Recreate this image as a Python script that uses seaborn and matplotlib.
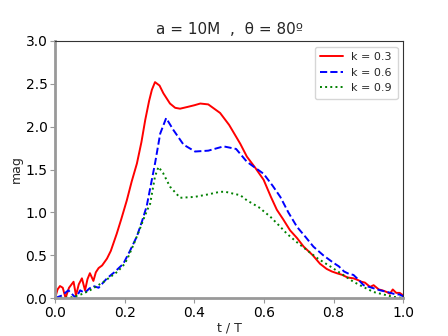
import matplotlib
matplotlib.use("Agg")
import matplotlib.pyplot as plt
import seaborn as sns
import pandas as pd

# k = 0.3 (red, solid)
x_k03 = [0.0, 0.007, 0.014, 0.022, 0.03, 0.04, 0.053, 0.06, 0.068, 0.077, 0.086, 0.093,
         0.10, 0.11, 0.117, 0.125, 0.135, 0.149, 0.16, 0.177, 0.19, 0.206, 0.22, 0.235,
         0.248, 0.259, 0.27, 0.278, 0.287, 0.30, 0.311, 0.33, 0.345, 0.359, 0.38, 0.40,
         0.417, 0.44, 0.474, 0.50, 0.532, 0.551, 0.575, 0.599, 0.62, 0.637, 0.655, 0.675,
         0.695, 0.714, 0.74, 0.761, 0.78, 0.795, 0.809, 0.825, 0.84, 0.857, 0.87, 0.88,
         0.89, 0.905, 0.915, 0.93, 0.94, 0.953, 0.962, 0.97, 0.98, 0.99, 1.0]
y_k03 = [0.0, 0.10, 0.14, 0.12, 0.0, 0.12, 0.19, 0.03, 0.16, 0.23, 0.09, 0.22,
         0.29, 0.20, 0.30, 0.35, 0.38, 0.46, 0.55, 0.75, 0.92, 1.14, 1.36, 1.57,
         1.82, 2.08, 2.30, 2.43, 2.52, 2.48, 2.39, 2.27, 2.22, 2.21, 2.23, 2.25,
         2.27, 2.26, 2.16, 2.02, 1.80, 1.65, 1.52, 1.38, 1.18, 1.03, 0.92, 0.79,
         0.70, 0.60, 0.50, 0.40, 0.34, 0.31, 0.29, 0.27, 0.24, 0.23, 0.21, 0.19,
         0.18, 0.13, 0.15, 0.10, 0.09, 0.07, 0.05, 0.10, 0.06, 0.06, 0.03]

# k = 0.6 (blue, dashed)
x_k06 = [0.0, 0.02, 0.038, 0.05, 0.06, 0.072, 0.085, 0.098, 0.11, 0.125, 0.149, 0.17,
         0.196, 0.215, 0.235, 0.25, 0.263, 0.275, 0.287, 0.302, 0.319, 0.34, 0.369,
         0.402, 0.44, 0.484, 0.52, 0.551, 0.575, 0.599, 0.625, 0.647, 0.67, 0.695,
         0.72, 0.742, 0.77, 0.80, 0.815, 0.83, 0.845, 0.857, 0.87, 0.886, 0.91, 0.934,
         0.955, 0.972, 0.99, 1.0]
y_k06 = [0.0, 0.03, 0.09, 0.04, 0.0, 0.09, 0.06, 0.11, 0.14, 0.12, 0.23, 0.30,
         0.40, 0.55, 0.72, 0.90, 1.07, 1.32, 1.57, 1.92, 2.10, 1.96, 1.79,
         1.71, 1.72, 1.77, 1.74, 1.59, 1.52, 1.45, 1.31, 1.18, 1.00, 0.83,
         0.71, 0.60, 0.50, 0.41, 0.37, 0.31, 0.28, 0.27, 0.22, 0.15, 0.12, 0.09,
         0.07, 0.05, 0.04, 0.02]

# k = 0.9 (green, dotted)
x_k09 = [0.0, 0.03, 0.05, 0.065, 0.08, 0.10, 0.12, 0.14, 0.16, 0.18, 0.20, 0.21,
         0.225, 0.24, 0.255, 0.265, 0.273, 0.287, 0.297, 0.31, 0.33, 0.359, 0.40,
         0.44, 0.474, 0.489, 0.51, 0.532, 0.551, 0.585, 0.618, 0.645, 0.666, 0.695,
         0.723, 0.755, 0.79, 0.82, 0.857, 0.885, 0.915, 0.945, 0.97, 1.0]
y_k09 = [0.0, 0.005, 0.01, 0.03, 0.05, 0.09, 0.14, 0.19, 0.25, 0.31, 0.40, 0.48,
         0.62, 0.77, 0.93, 1.03, 1.10, 1.42, 1.53, 1.46, 1.30, 1.17, 1.18,
         1.21, 1.24, 1.24, 1.22, 1.20, 1.14, 1.06, 0.95, 0.84, 0.75, 0.65,
         0.56, 0.46, 0.37, 0.29, 0.19, 0.13, 0.07, 0.04, 0.015, 0.0]

labels = ["k = 0.3", "k = 0.6", "k = 0.9"]
colors = ["red", "blue", "green"]

frames = []
for lab, xs, ys in zip(labels, [x_k03, x_k06, x_k09], [y_k03, y_k06, y_k09]):
    frames.append(pd.DataFrame({"t": xs, "mag": ys, "k": lab}))
df = pd.concat(frames, ignore_index=True)

sns.set_theme(style="white")
plt.rcParams["font.family"] = ["DejaVu Sans"]

fig = plt.figure(figsize=(4.48, 3.36), dpi=100)
ax = fig.add_axes([0.123, 0.113, 0.777, 0.765])

sns.lineplot(data=df, x="t", y="mag", hue="k", style="k", sort=False,
             palette=colors, dashes=[(None, None), (4, 2), (1, 1.6)],
             linewidth=1.4, ax=ax, estimator=None)
lines = ax.get_lines()
styles = ["-", (0, (3.7, 1.6)), (0, (1, 1.65))]
for ln, ls in zip(lines[:3], styles):
    ln.set_linestyle(ls)

ax.set_xlim(0, 1)
ax.set_ylim(0, 3)
ax.set_xticks([0.0, 0.2, 0.4, 0.6, 0.8, 1.0])
ax.set_yticks([0.0, 0.5, 1.0, 1.5, 2.0, 2.5, 3.0])
ax.set_xticklabels(["0.0", "0.2", "0.4", "0.6", "0.8", "1.0"])
ax.set_yticklabels(["0.0", "0.5", "1.0", "1.5", "2.0", "2.5", "3.0"])
ax.tick_params(axis="both", labelsize=10, length=3.5, width=0.8, color="#999999",
               direction="out", left=True, bottom=True, pad=2, labelcolor="black")
ax.set_xlabel("t / T", fontsize=9, labelpad=1)
ax.set_ylabel("mag", fontsize=9, labelpad=2)
ax.set_title("a = 10M  ,  θ = 80º", fontsize=11, pad=5)

for side in ["left", "bottom"]:
    ax.spines[side].set_color("#999999")
    ax.spines[side].set_linewidth(2)
for side in ["top", "right"]:
    ax.spines[side].set_color("#333333")
    ax.spines[side].set_linewidth(0.8)

leg = ax.legend(handles=lines[:3], labels=labels, loc="upper right", fontsize=8,
                frameon=True, framealpha=0.8, edgecolor="#cccccc", fancybox=True,
                handlelength=2.0, borderpad=0.5, labelspacing=0.5)
for h, ls in zip(leg.get_lines(), styles):
    h.set_linestyle(ls)

fig.savefig("out.png", dpi=100)
